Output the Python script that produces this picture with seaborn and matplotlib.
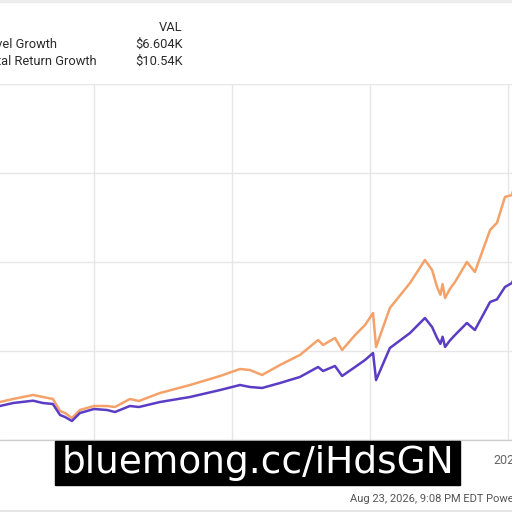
import matplotlib
matplotlib.use("Agg")
import matplotlib.pyplot as plt
import seaborn as sns
import pandas as pd
from matplotlib.lines import Line2D
from matplotlib.patches import Rectangle

# ---- data (decimal years, dollar values) ----
years = [2006.59, 2007.07, 2007.79, 2008.15, 2008.51, 2008.77, 2008.95, 2009.20,
         2009.49, 2010.00, 2010.47, 2010.76, 2011.30, 2011.63, 2012.39, 2013.48,
         2014.57, 2015.29, 2015.65, 2016.09, 2016.74, 2017.46, 2018.12, 2018.30,
         2018.73, 2018.99, 2019.46, 2019.82, 2020.11, 2020.22, 2020.72, 2021.45,
         2021.99, 2022.25, 2022.43, 2022.55, 2022.63, 2022.72, 2022.90, 2023.08,
         2023.51, 2023.80, 2024.35, 2024.60, 2024.89, 2025.14, 2026.64]
price_growth = [955, 1039, 1104, 1039, 1011, 702, 646, 534,
                758, 871, 843, 786, 955, 927, 1067, 1208,
                1404, 1545, 1489, 1461, 1601, 1770, 2051, 1938,
                2079, 1798, 2051, 2247, 2444, 1685, 2584, 3006,
                3427, 3174, 2865, 2700, 2900, 2612, 2800, 2949,
                3287, 3090, 3876, 3950, 4298, 4410, 6604]
total_return_growth = [1067, 1152, 1264, 1208, 1152, 815, 758, 618,
                       843, 955, 955, 927, 1152, 1096, 1320, 1545,
                       1798, 1994, 1966, 1826, 2107, 2388, 2809, 2669,
                       2865, 2528, 2949, 3230, 3567, 2612, 3708, 4410,
                       5056, 4775, 4298, 4080, 4380, 3989, 4250, 4438,
                       5000, 4719, 5899, 6100, 6826, 6882, 10540]
series_names = ["Price Level Growth", "Total Return Growth"]
series_vals = ["$6.604K", "$10.54K"]
x_ticks = [2010, 2015, 2020, 2025]
y_ticks = [0, 2500, 5000, 7500, 10000]

df = pd.DataFrame({
    "year": years * 2,
    "value": price_growth + total_return_growth,
    "series": [series_names[0]] * len(years) + [series_names[1]] * len(years),
})

sns.set_theme(style="white")
plt.rcParams["font.family"] = ["Roboto", "DejaVu Sans"]

W = H = 512
fig = plt.figure(figsize=(5.12, 5.12), dpi=100)
ax = fig.add_axes([0, (H - 440) / H, 1, (440 - 84) / H])

palette = {series_names[0]: "#5b3cc4", series_names[1]: "#f4a26a"}
sns.lineplot(data=df, x="year", y="value", hue="series", palette=palette,
             hue_order=[series_names[1], series_names[0]],
             linewidth=1.8, ax=ax, legend=False)

ax.set_xlim(2010 - 94 / 27.6, 2010 + 418 / 27.6)
ax.set_ylim(0, 10000)
ax.set_xticks(x_ticks)
# labels 2010-2020 sit under the watermark in the reference
ax.set_xticklabels(["", "", "", "2025"], color="#666666", fontsize=9)
ax.set_yticks(y_ticks)
ax.set_yticklabels([])
ax.tick_params(length=0, pad=10)
ax.set_xlabel("")
ax.set_ylabel("")
ax.grid(True, color="#e6e6e6", linewidth=1)
for s in ["left", "right", "top"]:
    ax.spines[s].set_visible(False)
ax.spines["bottom"].set_color("#cccccc")
ax.spines["bottom"].set_linewidth(1)

def px(x, y):
    return x / W, 1 - y / H

# top border band
fig.patches.append(Rectangle((0, 1 - 2 / H), 1, 2 / H, transform=fig.transFigure,
                             color="#ececec", zorder=5))
# bottom border line
fig.lines.append(Line2D([0, 1], [1.5 / H, 1.5 / H], transform=fig.transFigure,
                        color="#e0e0e0", linewidth=1.2))

# legend table
tc = "#2b2b2b"
fig.text(*px(182.5, 31), "VAL", ha="right", va="baseline", fontsize=9.3, color=tc)
fig.text(*px(57, 48), series_names[0], ha="right", va="baseline", fontsize=9.3, color=tc)
fig.text(*px(97, 65), series_names[1], ha="right", va="baseline", fontsize=9.3, color=tc)
fig.text(*px(182.5, 48), series_vals[0], ha="right", va="baseline", fontsize=9.3, color=tc)
fig.text(*px(182.5, 65), series_vals[1], ha="right", va="baseline", fontsize=9.3, color=tc)

# timestamp footer
fig.text(*px(350, 502), "Aug 23, 2026, 9:08 PM EDT Powered by YCharts", ha="left",
         va="baseline", fontsize=8, color="#555555")

# watermark overlay
fig.patches.append(Rectangle(px(55, 485), (460 - 55) / W, (485 - 441) / H,
                             transform=fig.transFigure, color="black", zorder=6))
fig.text(*px(258, 463), "bluemong.cc/iHdsGN", ha="center", va="center",
         fontsize=27, color="white", family=["DejaVu Sans"], zorder=7)

fig.savefig("out.png", dpi=100)
